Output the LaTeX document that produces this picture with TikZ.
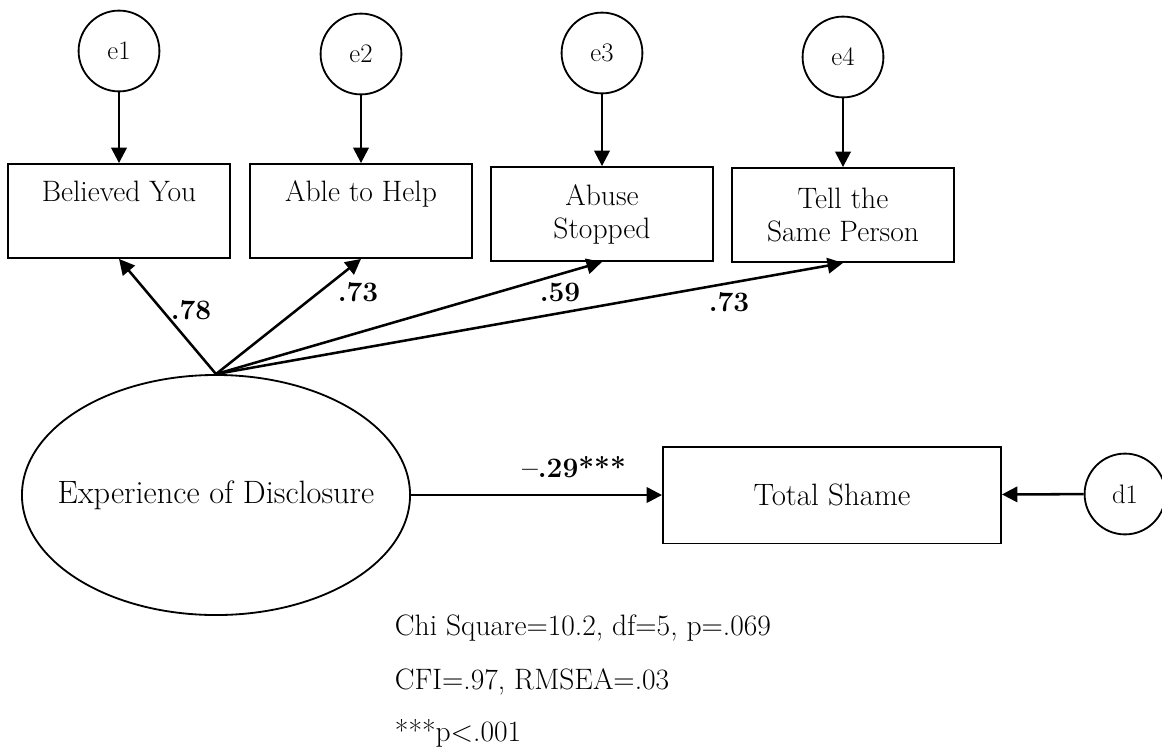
\documentclass[tikz,border=0pt]{standalone}
\usepackage{tikz}
\usetikzlibrary{arrows.meta,shapes.geometric}

\begin{document}
\begin{tikzpicture}[x=0.025cm,y=-0.025cm,
        err/.style={circle,draw,line width=1.3pt,minimum size=2.02cm,inner sep=0pt,font=\fontsize{19}{22}\selectfont},
        obs/.style={rectangle,draw,line width=1.3pt,minimum width=5.53cm,minimum height=2.35cm,align=center,font=\fontsize{21}{23.5}\selectfont},
        coef/.style={font=\fontsize{20}{24}\selectfont\bfseries},
        fit/.style={anchor=west,font=\fontsize{21}{24}\selectfont},
        path/.style={-{Triangle[length=11pt,width=11pt]},line width=1.8pt}]
                    \useasboundingbox (0,0) rectangle (1162,751);

                        \node (e1) at (119,51) [err] {e1};
                        \node (e2) at (361,54) [err] {e2};
                        \node (e3) at (602,53) [err] {e3};
                        \node (e4) at (843,57) [err] {e4};

                        \node (b1) at (119,211) [obs] {Believed You\\\phantom{Ag}};
                        \node (b2) at (361,211) [obs] {Able to Help\\\phantom{Ag}};
                        \node (b3) at (602,214) [obs] {Abuse\\Stopped};
                        \node (b4) at (843,215) [obs] {Tell the\\Same Person};

                        \node (dis) at (216,495) [ellipse,draw,line width=1.3pt,inner sep=0pt,minimum width=9.7cm,minimum height=6cm,font=\fontsize{23}{27}\selectfont] {\makebox[0pt]{Experience of Disclosure}};
                        \node (ts) at (832,495) [rectangle,draw,line width=1.3pt,minimum width=8.45cm,minimum height=2.42cm,font=\fontsize{22}{26}\selectfont] {Total Shame};
                        \node (d1) at (1125,494) [err] {d1};

                        \node (l1) at (191,310) [coef] {.78};
                        \node (l2) at (358,292) [coef] {.73};
                        \node (l3) at (560,292) [coef] {.59};
                        \node (l4) at (729,302) [coef] {.73};
                        \node (l5) at (574,467) [coef] {--.29***};

                        \node (f1) at (390,628) [fit] {Chi Square=10.2, df=5, p=.069};
                        \node (f2) at (390,682) [fit] {CFI=.97, RMSEA=.03};
                        \node (f3) at (390,733) [fit] {***p\textless.001};

                    \draw [path] (e1) -- (b1) ;
                    \draw [path] (e2) -- (b2) ;
                    \draw [path] (e3) -- (b3) ;
                    \draw [path] (e4) -- (b4) ;
                        \draw [path] (dis.north) -- (b1.south) ;
                        \draw [path] (dis.north) -- (b2.south) ;
                        \draw [path] (dis.north) -- (b3.south) ;
                        \draw [path] (dis.north) -- (b4.south) ;
                        \draw [path] (dis) -- (ts) ;
                        \draw [path] (d1) -- (ts) ;

\end{tikzpicture}
\end{document}
